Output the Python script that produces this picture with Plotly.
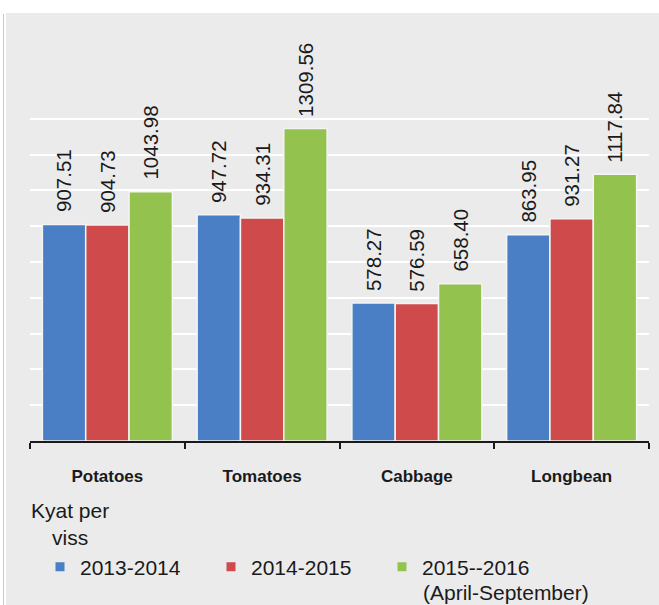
import plotly.graph_objects as go

# Average retail prices of selected vegetables (Kyat per viss)
categories = ["Potatoes", "Tomatoes", "Cabbage", "Longbean"]
series_names = ["2013-2014", "2014-2015", "2015--2016"]
series_note = "(April-September)"
prices_2013_2014 = [907.51, 947.72, 578.27, 863.95]
prices_2014_2015 = [904.73, 934.31, 576.59, 931.27]
prices_2015_2016 = [1043.98, 1309.56, 658.40, 1117.84]
series_values = [prices_2013_2014, prices_2014_2015, prices_2015_2016]
colors = ["#4a7fc6", "#cf4b4b", "#93c24f"]
grid_values = [150, 300, 450, 600, 750, 900, 1050, 1200, 1350]

W, H = 659, 605
M_L, M_R, M_T, M_B = 30, 10, 83, 164
BARGAP = 0.16
PANEL = "#ebebeb"
FONT = "Liberation Sans, Arial, sans-serif"

fig = go.Figure()

for name, vals, col in zip(series_names, series_values, colors):
    fig.add_trace(go.Bar(
        x=categories, y=vals, name=name, showlegend=False,
        marker=dict(color=col, line=dict(color="#f4f4f4", width=1.5)),
        hoverinfo="x+y",
    ))
    # legend proxy: small square swatch
    fig.add_trace(go.Scatter(
        x=[None], y=[None], mode="markers", name=name,
        marker=dict(symbol="square", size=9, color=col),
    ))

# rotated value labels above each bar
plot_w = W - M_L - M_R
band = plot_w / len(categories)
bar_w = band * (1 - BARGAP) / len(series_values)
for si, vals in enumerate(series_values):
    shift = (si - 1) * bar_w
    for cat, v in zip(categories, vals):
        fig.add_annotation(
            x=cat, y=v, xref="x", yref="y", text=f"{v:.2f}",
            textangle=-90, showarrow=False, xanchor="center", yanchor="bottom",
            xshift=shift, yshift=10,
            font=dict(family=FONT, size=20.5, color="#1a1a1a"),
        )

plot_h = H - M_T - M_B

def px_to_paper_x(px):
    return (px - M_L) / plot_w

def px_to_paper_y(py):
    return (H - M_B - py) / plot_h

fig.add_annotation(
    x=px_to_paper_x(70), y=px_to_paper_y(523.5), xref="paper", yref="paper",
    text="Kyat per<br>viss", showarrow=False, align="center",
    xanchor="center", yanchor="middle",
    font=dict(family=FONT, size=21, color="#1a1a1a"),
)
# second line of the last series name
fig.add_annotation(
    x=px_to_paper_x(421), y=px_to_paper_y(592), xref="paper", yref="paper",
    text=series_note, showarrow=False, align="left",
    xanchor="left", yanchor="middle",
    font=dict(family=FONT, size=21, color="#1a1a1a"),
)

# gray panel and thin left rule
fig.add_shape(type="rect", xref="paper", yref="paper",
              x0=px_to_paper_x(6), x1=px_to_paper_x(W + 5),
              y0=px_to_paper_y(H + 5), y1=px_to_paper_y(13),
              fillcolor=PANEL, line=dict(width=0), layer="below")
fig.add_shape(type="line", xref="paper", yref="paper",
              x0=px_to_paper_x(3.5), x1=px_to_paper_x(3.5),
              y0=px_to_paper_y(H), y1=px_to_paper_y(14),
              line=dict(color="#c8c8c8", width=1), layer="below")

fig.update_layout(
    width=W, height=H,
    margin=dict(l=M_L, r=M_R, t=M_T, b=M_B, autoexpand=False),
    paper_bgcolor="white", plot_bgcolor="rgba(0,0,0,0)",
    barmode="group", bargap=BARGAP, bargroupgap=0,
    font=dict(family=FONT, color="#1a1a1a"),
    showlegend=True,
    legend=dict(
        orientation="h", x=px_to_paper_x(40), y=px_to_paper_y(567),
        xanchor="left", yanchor="middle", valign="middle",
        bgcolor="rgba(0,0,0,0)", entrywidthmode="pixels", entrywidth=126,
        font=dict(family=FONT, size=21, color="#1a1a1a"),
        itemclick=False, itemdoubleclick=False,
    ),
    xaxis=dict(
        showline=True, linecolor="#1a1a1a", linewidth=1.5,
        ticks="outside", ticklen=6, tickcolor="#1a1a1a", tickwidth=1.5,
        tickson="boundaries", ticklabelstandoff=19,
        tickfont=dict(family=FONT, size=17, color="#1a1a1a", weight="bold"),
        showgrid=False, zeroline=False,
    ),
    yaxis=dict(
        range=[0, 1500], tickvals=grid_values, showticklabels=False,
        showgrid=True, gridcolor="white", gridwidth=2,
        zeroline=False, showline=False,
    ),
)

fig.write_html("out.html")
